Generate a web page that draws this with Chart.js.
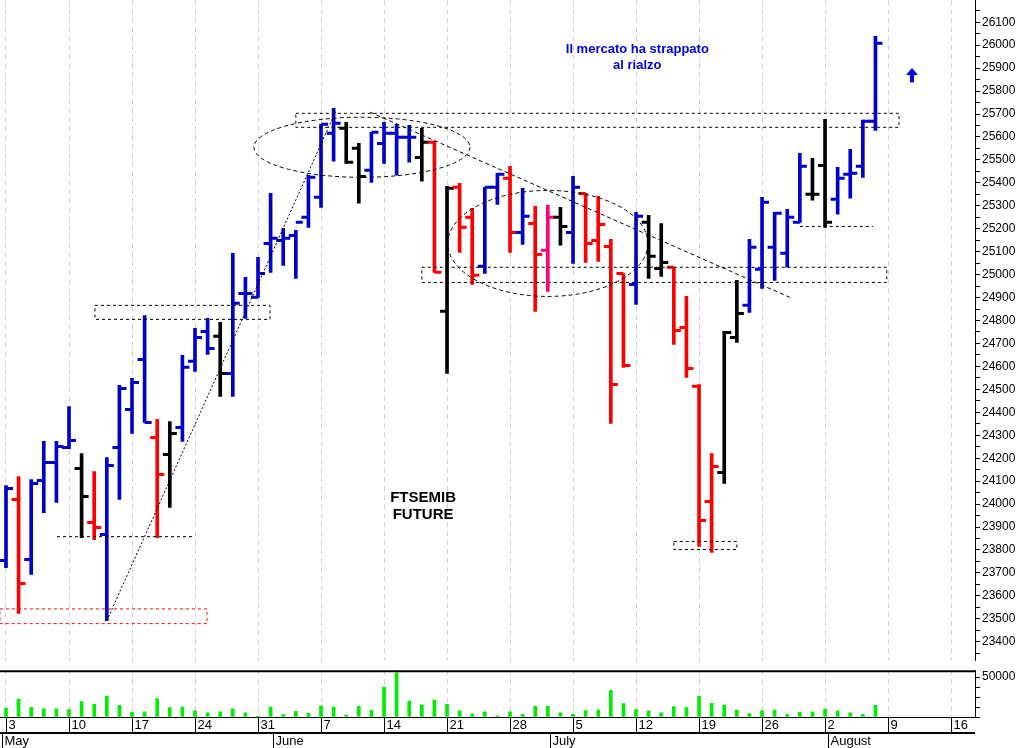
<!DOCTYPE html>
<html><head><meta charset="utf-8">
<script src="https://cdn.jsdelivr.net/npm/chart.js@4/dist/chart.umd.min.js"></script>
<style>html,body{margin:0;padding:0;background:#fff;overflow:hidden}#a{width:1030px;height:679px;position:absolute;left:0;top:-9px}#b{width:1030px;height:87px;position:absolute;left:0;top:661px;background:#fff}</style>
</head><body>
<div id="a"><canvas id="c1"></canvas></div>
<div id="b"><canvas id="c2"></canvas></div>
<script>
const opens =[23754,24020,23758,24103,24181,24247,24155,23920,23867,24247,24412,24630,24290,24216,24334,24622,24752,24731,24569,24918,24901,25136,25149,25171,25250,25337,25616,25638,25551,25455,25572,25616,25599,25511,25577,24840,25381,25250,25036,25381,25420,25184,25223,25106,25250,25184,25354,25149,25123,25005,24957,25228,25027,25032,24770,24513,24011,24138,24726,24866,25023,25119,25093,25228,25350,25476,25328,25437,25472,25668];
const highs =[24081,24120,24107,24273,24273,24425,24220,24142,24203,24517,24548,24822,24369,24360,24648,24766,24809,24792,25093,24988,25075,25354,25202,25193,25433,25655,25725,25664,25572,25620,25664,25655,25651,25638,25581,25385,25398,25289,25381,25442,25472,25376,25298,25302,25293,25428,25354,25341,25154,25005,25271,25258,25223,25032,24905,24521,24220,24753,24975,25154,25337,25271,25285,25529,25507,25677,25468,25546,25673,26039];
const lows  =[23723,23523,23693,23963,24007,24242,23854,23845,23492,24020,24308,24356,23854,23985,24273,24578,24652,24469,24469,24809,24901,25010,25040,24984,25206,25293,25494,25485,25311,25402,25485,25433,25490,25407,25010,24569,25097,24957,25005,25306,25097,25132,24840,24927,25128,25049,25053,25058,24351,24596,24870,24984,24992,24696,24552,23815,23789,24090,24705,24835,24940,24975,25032,25228,25324,25206,25263,25333,25424,25629];
const closes=[24068,23654,24090,24181,24251,24277,24033,23898,24168,24504,24530,24356,24129,24308,24596,24726,24678,24569,24875,24918,25005,25158,25158,25228,25424,25655,25660,25490,25428,25620,25616,25599,25599,25577,25010,25376,25206,24997,25381,25437,25184,25254,25088,25250,25210,25381,25136,25219,24521,24604,25254,25080,25053,24757,24591,23928,24164,24748,24831,25119,25315,25267,25250,25472,25350,25228,25420,25442,25668,26008];
const barColors="brbbbbkrbbbbrkbbbkbbbbbbbbbkkbbbbkrkrrbbrbrpkbrrrrbkkrrrrkkbbbbbkkbbbb";
const volumes=[11034,22070,12070,10345,10345,9310,19310,15860,26200,14480,5860,6550,23100,11720,12410,7590,5170,6550,10345,5170,500,12410,3100,7240,4480,14140,12410,2410,13450,8280,37580,55170,20000,15170,21030,15860,7590,3790,6550,1380,6550,3450,13450,13450,5170,3450,7930,8620,33450,16900,9310,7590,5170,13100,11720,26200,17240,14830,8620,4140,7590,8620,3450,5860,6550,10000,7590,5170,3450,14480];
const weekLabels=['3','10','17','24','31','7','14','21','28','5','12','19','26','2','9','16'];
const months=[['May',-0.3],['June',21.2],['July',43.2],['August',65.2]];
const COL={b:'#0000cc',r:'#ff0000',k:'#000000',p:'#ff0080'};
const XMIN=-0.476, XMAX=76.9;
const idx=opens.map((_,i)=>i);
const FONT="'Liberation Sans', Arial, sans-serif";
const NARROW="'Liberation Sans Narrow','Liberation Sans', Arial, sans-serif";

const ocPlugin={id:'oc',afterDatasetsDraw(ch){
  const c=ch.ctx,x=ch.scales.x,y=ch.scales.y;
  c.save();c.lineWidth=3;
  idx.forEach(i=>{const px=x.getPixelForValue(i);c.strokeStyle=COL[barColors[i]];
    c.beginPath();c.moveTo(px-7,y.getPixelForValue(opens[i]));c.lineTo(px,y.getPixelForValue(opens[i]));
    c.moveTo(px,y.getPixelForValue(closes[i]));c.lineTo(px+7,y.getPixelForValue(closes[i]));c.stroke();});
  c.restore();
  const X=v=>x.getPixelForValue(v),Y=v=>y.getPixelForValue(v);
  c.save();c.lineWidth=1;c.setLineDash([3,3]);
  const rect=(x1,x2,p1,p2,col)=>{c.strokeStyle=col;c.strokeRect(X(x1),Y(p1),X(x2)-X(x1),Y(p2)-Y(p1));};
  const line=(x1,p1,x2,p2)=>{c.strokeStyle='#000';c.beginPath();c.moveTo(X(x1),Y(p1));c.lineTo(X(x2),Y(p2));c.stroke();};
  rect(-0.48,15.95,23543,23479,'#ff0000');
  line(4.05,23858,14.76,23858);
  rect(7.06,20.95,24866,24805,'#000');
  rect(23.0,70.87,25703,25642,'#000');
  rect(33.0,69.9,25032,24966,'#000');
  line(63.0,25210,68.8,25210);
  rect(53.0,58.0,23837,23802,'#000');
  c.setLineDash([2,2]);
  line(8,23492,26.2,25716);
  c.setLineDash([4,3]);
  line(28.9,25708,62.2,24901);
  const ell=(cx,cp,rx,rp)=>{c.strokeStyle='#000';c.beginPath();c.ellipse(X(cx),Y(cp),X(cx+rx)-X(cx),Y(cp)-Y(cp+rp),0,0,Math.PI*2);c.stroke();};
  ell(28.25,25555,8.57,131);
  ell(43.0,25136,7.94,231);
  c.restore();
  c.save();c.textAlign='center';c.textBaseline='middle';
  c.fillStyle='#0000dd';c.font='bold 13px '+FONT;
  c.fillText('Il mercato ha strappato',X(50.1),Y(25982));
  c.fillText('al rialzo',X(50.1),Y(25912));
  c.fillStyle='#000';c.font='bold 15px '+FONT;
  c.fillText('FTSEMIB',X(33.1),Y(24029));
  c.fillText('FUTURE',X(33.1),Y(23954));
  c.fillStyle='#0000ee';const ax=X(71.9),ay1=Y(25838),ay2=Y(25900);
  c.fillRect(ax-2,ay2+5,4,ay1-ay2-5);
  c.beginPath();c.moveTo(ax-6,ay2+7);c.lineTo(ax+6,ay2+7);c.lineTo(ax,ay2);c.closePath();c.fill();
  c.restore();
}};

const xCommon={type:'linear',min:XMIN,max:XMAX,offset:false,
  afterBuildTicks(s){s.ticks=[];for(let v=0;v<=75;v+=5)s.ticks.push({value:v});},
  grid:{color:'#d0d0d0',drawTicks:false,lineWidth:1,offset:false},border:{display:false,dash:[5,4]},ticks:{display:false}};
const yFit=s=>{s.width=55;};

new Chart(document.getElementById('c1'),{type:'bar',
  data:{datasets:[{data:idx.map(i=>({x:i,y:[lows[i],highs[i]]})),backgroundColor:idx.map(i=>COL[barColors[i]]),barThickness:3,borderWidth:0}]},
  options:{responsive:true,maintainAspectRatio:false,animation:false,layout:{padding:0},
    plugins:{legend:{display:false},tooltip:{enabled:false}},
    scales:{x:xCommon,
      y:{position:'right',min:23317,max:26196,afterFit:yFit,
        afterBuildTicks(s){s.ticks=[];for(let v=23350;v<=26150;v+=50)s.ticks.push({value:v});},
        grid:{drawOnChartArea:false,color:'#000',tickLength:5},border:{color:'#000',width:1},
        ticks:{autoSkip:false,color:'#000',font:{family:FONT,size:12},padding:2,callback:v=>v%100===0?String(v):''}}}},
  plugins:[ocPlugin]});

const axisPlugin={id:'ax',afterDraw(ch){
  const c=ch.ctx,x=ch.scales.x,a=ch.chartArea;
  c.save();c.strokeStyle='#000';c.lineWidth=2;
  c.beginPath();c.moveTo(0,a.top+1);c.lineTo(a.right,a.top+1);c.stroke();
  c.lineWidth=1;c.beginPath();c.moveTo(0,a.bottom+0.5);c.lineTo(a.right,a.bottom+0.5);c.stroke();
  c.lineWidth=2;c.beginPath();c.moveTo(0,a.bottom+16);c.lineTo(a.right,a.bottom+16);c.stroke();
  c.lineWidth=1;c.fillStyle='#000';c.font='13px '+NARROW;c.textBaseline='top';
  weekLabels.forEach((t,k)=>{const px=Math.round(x.getPixelForValue(k*5))+0.5;
    c.beginPath();c.moveTo(px,a.bottom);c.lineTo(px,a.bottom+16);c.stroke();c.fillText(t,px+2,a.bottom+2);});
  months.forEach(([m,v])=>{const px=Math.max(0.5,Math.round(x.getPixelForValue(v))+0.5);
    c.beginPath();c.moveTo(px,a.bottom+16);c.lineTo(px,a.bottom+31);c.stroke();c.fillText(m,px+2,a.bottom+18);});
  c.restore();
}};

new Chart(document.getElementById('c2'),{type:'bar',
  data:{datasets:[{data:idx.map(i=>({x:i,y:volumes[i]})),backgroundColor:'#00ee00',barThickness:3,borderWidth:0}]},
  options:{responsive:true,maintainAspectRatio:false,animation:false,layout:{padding:{bottom:31}},
    plugins:{legend:{display:false},tooltip:{enabled:false}},
    scales:{x:xCommon,
      y:{position:'right',min:0,max:58600,afterFit:yFit,
        afterBuildTicks(s){s.ticks=[0,12500,25000,37500,50000].map(v=>({value:v}));},
        grid:{drawOnChartArea:false,color:'#000',tickLength:5},border:{color:'#000',width:1},
        ticks:{autoSkip:false,color:'#000',font:{family:FONT,size:12},padding:2,callback:v=>v===50000?'50000':''}}}},
  plugins:[axisPlugin]});
</script>
</body></html>
